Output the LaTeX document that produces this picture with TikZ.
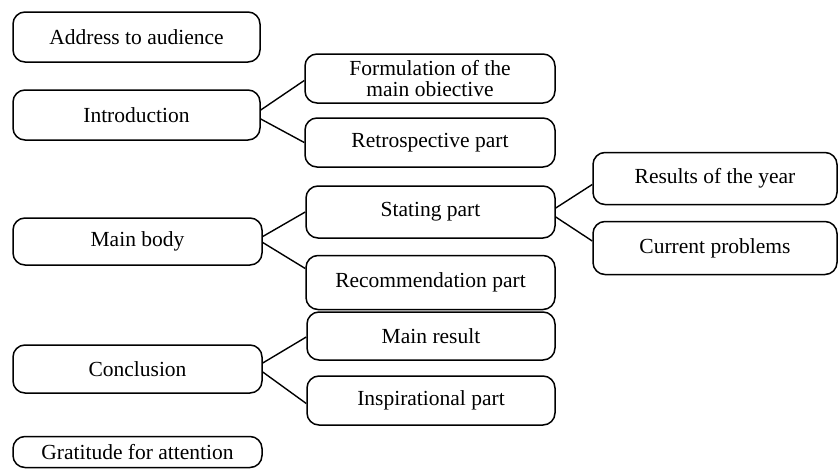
\documentclass[tikz,border=0pt]{standalone}
\usepackage{fontspec}
\setmainfont{Liberation Serif}
\begin{document}
\begin{tikzpicture}[x=1pt,y=-1pt,
  box/.style={draw=black,line width=1.5pt,rounded corners=12pt,align=center,
    inner sep=0pt,font=\fontsize{21.5}{20.5}\selectfont},
  link/.style={draw=black,line width=1.4pt}]
\useasboundingbox (0,0) rectangle (839,469);
\newcommand{\bx}[6]{\node[box,minimum width=#4pt,minimum height=#5pt] (#1) at (#2,#3) {#6};}
\bx{addr}{136.5}{37}{247}{50}{Address to audience}
\bx{intro}{136.5}{115}{247}{50}{Introduction}
\bx{form}{430}{78.5}{250}{49}{Formulation of the\\main obiective}
\bx{retro}{430}{142.5}{250}{49}{Retrospective part}
\bx{body}{137.5}{241.5}{249}{47}{Main body}
\bx{stat}{430.5}{212}{249}{52}{Stating part}
\bx{recom}{430.5}{282.5}{249}{54}{Recommendation part}
\bx{res}{715}{178.5}{244}{52}{Results of the year}
\bx{cur}{715}{248}{244}{53}{Current problems}
\bx{concl}{137.5}{369}{249}{48}{Conclusion}
\bx{mres}{431}{336}{248}{48}{Main result}
\bx{insp}{431}{400.5}{248}{49}{Inspirational part}
\bx{grat}{137.5}{452}{249}{31}{Gratitude for attention}
\draw[link] ([yshift=5pt]intro.east) -- ([yshift=-2pt]form.west);
\draw[link] ([yshift=-4pt]intro.east) -- (retro.west);
\draw[link] ([yshift=5pt]body.east) -- ([yshift=0pt]stat.west);
\draw[link] ([yshift=-1pt]body.east) -- ([yshift=14pt]recom.west);
\draw[link] ([yshift=4pt]stat.east) -- ([yshift=-6pt]res.west);
\draw[link] ([yshift=-5pt]stat.east) -- ([yshift=7pt]cur.west);
\draw[link] ([yshift=6pt]concl.east) -- ([yshift=-1pt]mres.west);
\draw[link] ([yshift=-3pt]concl.east) -- ([yshift=-3pt]insp.west);
\end{tikzpicture}
\end{document}
